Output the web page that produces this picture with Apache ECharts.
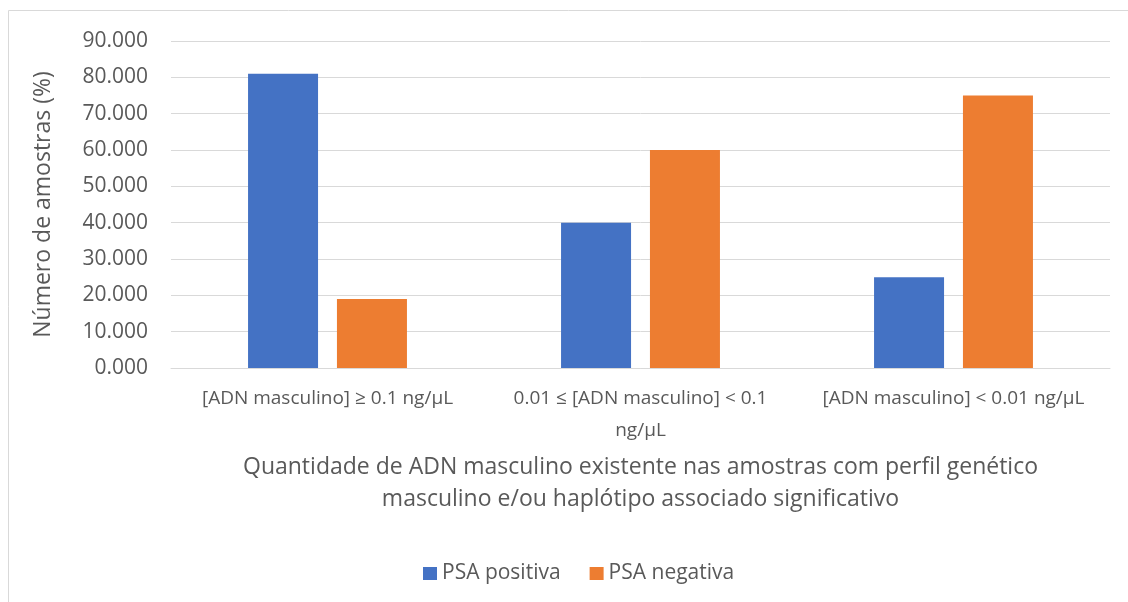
<!DOCTYPE html>
<html>
<head>
<meta charset="utf-8">
<script src="https://cdn.jsdelivr.net/npm/echarts@6/dist/echarts.min.js"></script>
<style>
  html, body { margin: 0; padding: 0; background: #fff; }
  #chart { width: 1128px; height: 602px; }
</style>
</head>
<body>
<div id="chart"></div>
<script>
// Categories: concentration of male DNA
const categories = [
  '[ADN masculino] ≥ 0.1 ng/μL',
  '0.01 ≤ [ADN masculino] < 0.1\nng/μL',
  '[ADN masculino] < 0.01 ng/μL'
];
const seriesNames = ['PSA positiva', 'PSA negativa'];
const psaPositiva = [81, 40, 25];
const psaNegativa = [19, 60, 75];
const yTicks = { min: 0, max: 90, interval: 10 };

const textColor = '#595959';
const fontFamily = '"Open Sans", sans-serif';

const chart = echarts.init(document.getElementById('chart'), null, { renderer: 'canvas' });
chart.setOption({
  animation: false,
  textStyle: { fontFamily: fontFamily, color: textColor },
  graphic: [{
    type: 'rect',
    shape: { x: 8.5, y: 10.5, width: 1130, height: 600 },
    style: { fill: 'none', stroke: '#d9d9d9', lineWidth: 1 },
    silent: true
  }],
  grid: { left: 171, right: 18, top: 41, bottom: 234, containLabel: false },
  legend: {
    data: seriesNames,
    top: 563,
    left: 423,
    padding: 0,
    itemWidth: 14,
    itemHeight: 13,
    itemGap: 29,
    icon: 'rect',
    textStyle: { fontSize: 21, color: textColor, fontFamily: fontFamily }
  },
  xAxis: {
    type: 'category',
    data: categories,
    axisLine: { show: true, lineStyle: { color: '#d9d9d9', width: 1 } },
    axisTick: { show: false },
    axisLabel: { fontSize: 19, color: textColor, lineHeight: 32, margin: 15, interval: 0 },
    name: 'Quantidade de ADN masculino existente nas amostras com perfil genético\nmasculino e/ou haplótipo associado significativo',
    nameLocation: 'middle',
    nameGap: 83,
    nameTextStyle: { fontSize: 23, color: textColor, lineHeight: 32, fontFamily: fontFamily }
  },
  yAxis: {
    type: 'value',
    min: yTicks.min,
    max: yTicks.max,
    interval: yTicks.interval,
    axisLine: { show: false },
    axisTick: { show: false },
    splitLine: { lineStyle: { color: '#d9d9d9', width: 1 } },
    axisLabel: {
      fontSize: 21, color: textColor, margin: 23,
      formatter: v => v.toFixed(3)
    },
    name: 'Número de amostras (%)',
    nameLocation: 'middle',
    nameGap: 116,
    nameTextStyle: { fontSize: 23, color: textColor, fontFamily: fontFamily }
  },
  series: [
    {
      name: seriesNames[0], type: 'bar', data: psaPositiva,
      itemStyle: { color: '#4472c4' },
      barWidth: 70, barGap: '27%'
    },
    {
      name: seriesNames[1], type: 'bar', data: psaNegativa,
      itemStyle: { color: '#ed7d31' },
      barWidth: 70, barGap: '27%'
    }
  ]
});
</script>
</body>
</html>
